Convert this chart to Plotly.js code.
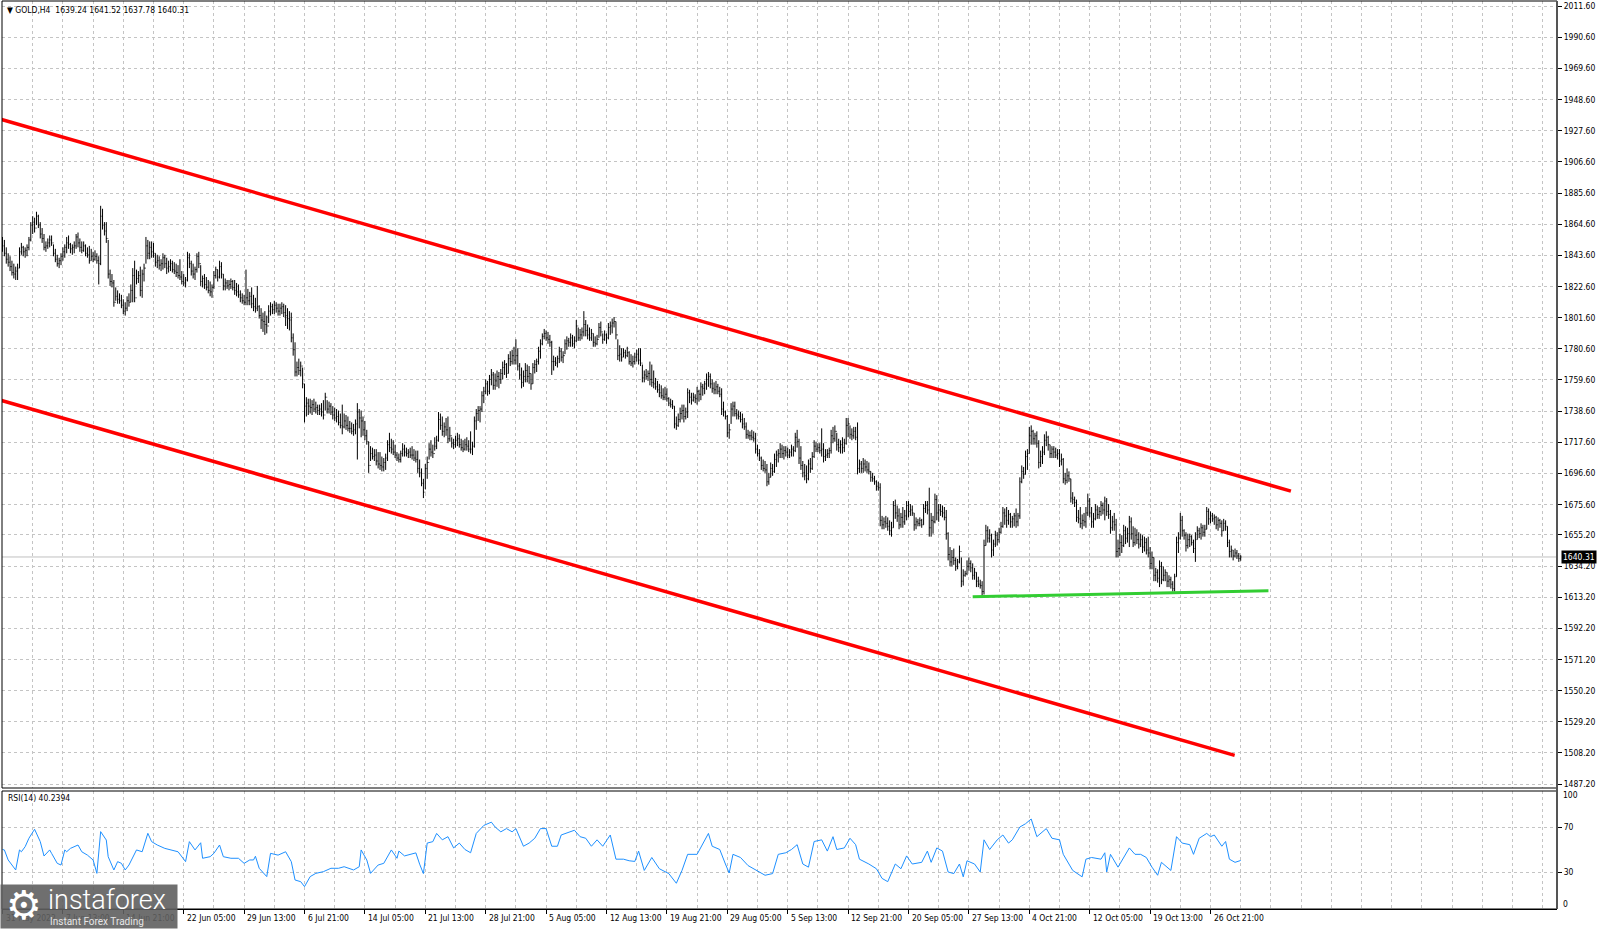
<!DOCTYPE html>
<html><head><meta charset="utf-8">
<script src="https://cdn.plot.ly/plotly-3.0.1.min.js"></script>
<style>html,body{margin:0;padding:0;background:#fff;overflow:hidden}#chart{width:1600px;height:929px}</style>
</head><body><div id="chart"></div>
<script>
// ---------------- DATA ----------------
const symbol = 'GOLD,H4';
const firstOpen = 1852;
const highs = [
1856,1854,1849,1845,1843,1840,1838,1836,1838,1849, 1852,1850,1849,1851,1856,1866,1870,1869,1873,1871,
1866,1862,1858,1853,1855,1857,1857,1851,1848,1844, 1842,1845,1849,1851,1856,1857,1852,1851,1853,1858,
1859,1855,1853,1853,1851,1849,1850,1848,1846,1847, 1845,1843,1877,1875,1866,1866,1854,1834,1831,1827,
1822,1820,1818,1817,1814,1812,1816,1818,1824,1835, 1840,1834,1833,1836,1834,1838,1856,1854,1853,1853,
1852,1845,1844,1843,1841,1845,1844,1842,1840,1841, 1840,1839,1838,1837,1841,1833,1831,1829,1846,1845,
1840,1838,1836,1845,1846,1837,1830,1831,1829,1827, 1826,1824,1833,1836,1834,1840,1839,1831,1828,1827,
1827,1828,1827,1827,1825,1824,1820,1818,1817,1834, 1821,1819,1822,1817,1815,1823,1810,1808,1805,1806,
1803,1810,1812,1811,1813,1812,1811,1811,1812,1811, 1810,1808,1806,1805,1791,1785,1772,1774,1772,1768,
1757,1748,1747,1747,1746,1747,1745,1743,1743,1744, 1746,1751,1746,1745,1744,1742,1741,1740,1739,1737,
1743,1737,1736,1735,1732,1731,1730,1733,1744,1740, 1739,1735,1732,1726,1718,1715,1714,1713,1713,1711,
1711,1708,1707,1710,1719,1724,1720,1719,1716,1711, 1710,1712,1717,1716,1714,1713,1714,1715,1713,1712,
1712,1706,1700,1693,1703,1708,1717,1719,1716,1721, 1722,1738,1737,1735,1731,1734,1735,1728,1721,1720,
1722,1724,1723,1720,1719,1720,1721,1719,1725,1718, 1735,1740,1742,1742,1752,1755,1760,1759,1763,1767,
1765,1764,1766,1765,1767,1772,1773,1771,1777,1779, 1780,1782,1787,1781,1771,1768,1766,1771,1770,1769,
1764,1771,1773,1774,1782,1787,1791,1794,1793,1792, 1790,1786,1776,1775,1776,1782,1781,1779,1787,1789,
1788,1791,1790,1789,1800,1795,1794,1795,1806,1800, 1797,1795,1794,1791,1789,1790,1798,1799,1791,1793,
1791,1798,1799,1801,1802,1799,1787,1783,1781,1781, 1780,1782,1779,1777,1776,1778,1780,1781,1781,1770,
1766,1767,1766,1772,1770,1766,1761,1759,1757,1756, 1754,1755,1754,1748,1747,1746,1742,1735,1737,1741,
1743,1743,1741,1754,1753,1751,1751,1750,1755,1753, 1758,1757,1759,1764,1765,1764,1760,1758,1759,1757,
1755,1754,1745,1739,1736,1730,1744,1745,1745,1740, 1739,1738,1737,1734,1731,1726,1725,1726,1725,1724,
1716,1713,1708,1706,1705,1703,1697,1704,1703,1710, 1712,1713,1717,1716,1715,1715,1714,1713,1716,1715,
1724,1726,1720,1715,1705,1703,1702,1706,1707,1711, 1719,1718,1717,1717,1727,1717,1713,1713,1714,1726,
1728,1729,1724,1720,1719,1721,1720,1734,1734,1729, 1727,1728,1728,1731,1706,1705,1707,1706,1705,1704,
1698,1697,1695,1692,1691,1690,1668,1667,1668,1667, 1665,1664,1678,1679,1675,1673,1670,1674,1672,1678,
1678,1676,1675,1670,1667,1666,1667,1666,1676,1678, 1678,1687,1670,1668,1683,1682,1676,1676,1675,1674,
1672,1657,1647,1645,1646,1640,1639,1648,1640,1632, 1631,1638,1640,1638,1636,1633,1630,1627,1625,1624,
1652,1662,1661,1659,1656,1652,1658,1657,1660,1664, 1674,1673,1674,1672,1670,1668,1670,1673,1670,1694,
1702,1701,1712,1713,1728,1729,1726,1724,1725,1719, 1712,1715,1723,1725,1722,1716,1715,1715,1714,1713,
1713,1710,1707,1697,1700,1698,1693,1684,1681,1679, 1672,1674,1669,1670,1674,1683,1680,1674,1670,1676,
1675,1674,1678,1677,1681,1680,1676,1672,1668,1670, 1666,1652,1656,1655,1662,1661,1660,1668,1667,1661,
1660,1659,1657,1656,1655,1654,1653,1654,1647,1644, 1640,1633,1632,1638,1637,1634,1632,1630,1628,1627,
1624,1629,1654,1657,1670,1668,1659,1657,1656,1656, 1655,1652,1657,1661,1660,1663,1662,1662,1674,1673,
1671,1670,1669,1668,1667,1666,1665,1666,1665,1661, 1652,1648,1645,1646,1645,1643,1641.52];
const lows = [
1846,1843,1838,1836,1833,1830,1828,1827,1827,1835, 1844,1843,1842,1843,1847,1853,1858,1859,1864,1862,
1855,1852,1847,1846,1848,1849,1850,1843,1839,1836, 1835,1837,1840,1842,1845,1848,1845,1844,1845,1848,
1849,1846,1845,1846,1843,1842,1838,1840,1839,1840, 1838,1824,1837,1861,1857,1852,1828,1823,1822,1809,
1813,1811,1811,1808,1804,1803,1806,1809,1812,1812, 1812,1824,1825,1816,1815,1826,1838,1841,1841,1842,
1842,1836,1835,1834,1833,1834,1835,1831,1832,1833, 1832,1831,1829,1828,1827,1824,1823,1822,1826,1835,
1830,1828,1827,1832,1835,1823,1822,1821,1820,1818, 1816,1815,1821,1828,1826,1828,1828,1820,1820,1821,
1820,1821,1820,1817,1816,1815,1812,1811,1810,1810, 1810,1810,1808,1806,1805,1806,1801,1794,1792,1790,
1791,1798,1803,1804,1804,1805,1803,1803,1804,1802, 1796,1794,1793,1785,1776,1762,1762,1763,1762,1754,
1731,1735,1736,1737,1736,1738,1737,1736,1736,1735, 1733,1739,1737,1737,1736,1733,1732,1731,1729,1727,
1723,1727,1726,1725,1724,1723,1722,1723,1706,1727, 1721,1722,1719,1716,1697,1705,1706,1705,1702,1700,
1699,1698,1698,1699,1705,1711,1710,1709,1707,1705, 1704,1704,1708,1708,1708,1707,1707,1706,1705,1704,
1697,1694,1688,1680,1686,1693,1706,1708,1707,1712, 1713,1718,1726,1722,1721,1722,1717,1718,1714,1713,
1714,1715,1714,1712,1711,1712,1712,1711,1710,1709, 1714,1726,1732,1731,1738,1744,1750,1749,1750,1756,
1753,1753,1755,1754,1757,1760,1763,1761,1764,1769, 1770,1770,1770,1766,1760,1754,1755,1758,1758,1757,
1753,1757,1764,1765,1770,1774,1783,1787,1786,1784, 1782,1763,1766,1769,1768,1771,1772,1771,1777,1780,
1782,1782,1782,1781,1785,1786,1786,1787,1789,1789, 1787,1786,1786,1782,1782,1783,1788,1789,1784,1786,
1784,1787,1790,1791,1795,1787,1773,1772,1772,1775, 1774,1775,1770,1769,1768,1770,1772,1770,1769,1758,
1758,1760,1759,1756,1755,1754,1753,1751,1748,1747, 1746,1746,1745,1742,1741,1740,1727,1726,1728,1731,
1733,1731,1733,1734,1744,1743,1745,1744,1743,1745, 1746,1749,1750,1753,1755,1754,1751,1750,1750,1750,
1748,1736,1735,1733,1721,1720,1730,1735,1735,1733, 1733,1731,1727,1726,1720,1720,1719,1719,1718,1710,
1708,1705,1699,1698,1697,1688,1689,1694,1695,1697, 1701,1704,1707,1707,1706,1708,1707,1707,1708,1708,
1711,1714,1703,1699,1694,1692,1690,1692,1697,1699, 1707,1711,1711,1710,1708,1704,1705,1707,1707,1710,
1717,1718,1712,1711,1710,1710,1711,1716,1721,1720, 1719,1720,1719,1696,1697,1697,1697,1698,1697,1696,
1691,1691,1689,1685,1685,1661,1659,1659,1660,1658, 1655,1654,1660,1666,1664,1659,1660,1660,1662,1665,
1667,1668,1668,1658,1659,1661,1661,1660,1662,1670, 1669,1654,1654,1656,1663,1665,1664,1668,1667,1665,
1652,1638,1634,1634,1635,1631,1632,1636,1620,1621, 1627,1628,1631,1630,1625,1625,1620,1620,1619,1613.5,
1615,1648,1650,1650,1640,1641,1647,1648,1650,1656, 1660,1662,1660,1662,1660,1660,1661,1660,1661,1666,
1690,1693,1696,1699,1710,1716,1716,1716,1714,1700, 1701,1703,1709,1715,1712,1707,1707,1707,1707,1706,
1701,1702,1690,1689,1690,1691,1677,1676,1674,1664, 1663,1660,1659,1661,1660,1668,1667,1660,1660,1665,
1666,1666,1668,1669,1665,1668,1666,1656,1658,1658, 1640,1640,1641,1643,1647,1649,1650,1647,1652,1647,
1648,1649,1646,1647,1643,1644,1642,1640,1632,1632, 1624,1624,1623,1620,1622,1624,1624,1620,1620,1619,
1617,1617,1627,1643,1652,1654,1652,1644,1646,1647, 1648,1643,1637,1652,1653,1652,1654,1654,1659,1662,
1663,1664,1662,1659,1658,1660,1654,1658,1658,1647, 1640,1640,1638,1640,1639,1637,1637.78];
const closes = [
1850,1845,1841,1839,1836,1832,1831,1833,1835,1846, 1849,1846,1847,1849,1854,1864,1866,1862,1870,1864,
1858,1855,1849,1850,1852,1854,1852,1845,1841,1838, 1840,1843,1846,1849,1852,1851,1848,1849,1850,1856,
1852,1849,1847,1850,1845,1844,1840,1843,1841,1843, 1840,1838,1870,1864,1860,1855,1831,1826,1825,1812,
1816,1814,1813,1810,1806,1808,1813,1812,1820,1830, 1815,1828,1830,1820,1831,1835,1850,1845,1849,1846,
1845,1839,1840,1837,1838,1842,1838,1835,1836,1838, 1834,1833,1832,1830,1829,1826,1825,1827,1842,1838,
1833,1831,1834,1843,1838,1826,1828,1824,1822,1820, 1819,1822,1830,1834,1829,1836,1831,1823,1825,1823,
1824,1826,1822,1820,1819,1817,1815,1813,1812,1815, 1813,1816,1811,1809,1808,1809,1803,1800,1799,1797,
1796,1806,1809,1807,1810,1808,1806,1808,1809,1805, 1803,1801,1800,1788,1780,1765,1768,1766,1769,1757,
1742,1744,1742,1741,1743,1740,1741,1739,1740,1738, 1736,1748,1740,1742,1738,1736,1734,1735,1731,1729,
1728,1732,1729,1727,1727,1725,1726,1730,1738,1734, 1732,1726,1722,1718,1702,1710,1708,1709,1705,1703,
1702,1701,1704,1707,1716,1714,1713,1711,1709,1707, 1706,1710,1713,1711,1710,1711,1709,1709,1707,1706,
1700,1697,1690,1684,1700,1704,1713,1711,1710,1715, 1719,1733,1729,1725,1728,1726,1720,1722,1717,1716,
1719,1720,1716,1714,1713,1716,1715,1713,1713,1715, 1732,1737,1739,1740,1749,1752,1757,1752,1760,1763,
1756,1759,1762,1760,1764,1768,1770,1764,1774,1772, 1776,1773,1776,1769,1763,1758,1762,1766,1762,1764,
1757,1768,1770,1772,1779,1784,1789,1791,1788,1787, 1785,1772,1772,1771,1774,1779,1775,1776,1784,1786,
1785,1788,1784,1786,1796,1788,1790,1792,1797,1793, 1790,1788,1791,1785,1784,1787,1795,1792,1787,1790,
1788,1795,1796,1798,1799,1790,1776,1777,1775,1778, 1776,1778,1772,1771,1772,1775,1777,1773,1771,1761,
1763,1762,1764,1760,1758,1757,1755,1753,1751,1749, 1748,1750,1747,1744,1743,1742,1730,1729,1733,1737,
1739,1735,1738,1751,1748,1746,1748,1747,1752,1750, 1755,1754,1757,1760,1762,1757,1754,1753,1755,1752,
1750,1740,1738,1735,1724,1726,1740,1742,1737,1736, 1735,1733,1730,1728,1723,1722,1722,1721,1720,1713,
1710,1707,1702,1700,1699,1691,1694,1700,1698,1706, 1709,1710,1713,1710,1712,1711,1709,1711,1713,1712,
1721,1718,1707,1702,1697,1695,1693,1703,1700,1708, 1715,1713,1714,1712,1713,1708,1709,1710,1712,1722,
1720,1725,1716,1714,1716,1714,1717,1729,1730,1723, 1722,1725,1721,1700,1703,1700,1703,1701,1699,1698,
1694,1693,1691,1688,1687,1665,1662,1664,1663,1661, 1658,1660,1675,1670,1668,1662,1667,1664,1668,1675,
1671,1672,1670,1662,1664,1663,1665,1662,1673,1675, 1672,1660,1665,1664,1679,1670,1672,1671,1670,1667,
1656,1642,1637,1640,1638,1634,1637,1644,1624,1628, 1629,1634,1636,1633,1628,1630,1624,1622,1621,1617,
1648,1658,1653,1655,1645,1649,1655,1652,1657,1661, 1670,1668,1665,1669,1664,1666,1668,1664,1668,1691,
1698,1696,1708,1710,1722,1725,1720,1722,1717,1704, 1708,1711,1719,1721,1716,1710,1713,1711,1709,1710,
1705,1706,1693,1692,1695,1693,1680,1679,1677,1667, 1666,1663,1665,1664,1670,1678,1670,1664,1666,1672,
1669,1671,1675,1672,1678,1671,1669,1660,1664,1662, 1644,1646,1650,1648,1658,1653,1656,1664,1656,1650,
1655,1652,1649,1652,1647,1650,1645,1643,1636,1640, 1628,1630,1626,1634,1625,1628,1630,1624,1625,1622,
1619,1627,1650,1653,1665,1658,1655,1648,1652,1654, 1650,1646,1652,1658,1656,1660,1657,1659,1671,1666,
1668,1666,1667,1662,1665,1663,1658,1663,1661,1650, 1644,1645,1641,1643,1641,1639.24,1640.31];

// RSI(14) read at these bar positions
const rsiBar = [0,1,3,7,9,10,12,14,17,18,20,22,25,26,29,31,33,34,36,40,42,45,48,50,52,55,56,59,61,63,65,67,69,71,74,77,79,82,86,89,93,97,99,102,105,106,110,112,115,117,121,125,128,131,133,134,136,140,142,146,150,153,155,158,160,163,166,170,174,178,181,186,189,190,193,195,199,202,206,209,
210,213,216,219,221,223,225,228,230,233,236,239,242,245,248,249,251,255,259,261,264,267,270,272,276,279,282,285,288,291,294,296,300,303,306,309,312,315,318,322,325,327,329,332,335,337,340,344,348,353,357,360,363,368,371,374,376,380,383,385,387,391,395,398,401,404,408,411,415,418,421,424,427,430,434,437,440,442,446,449,452,454,459,463,466,469,473,476,479,482,487,490,492,495,498,501,504,507,509,511,515,518,520,523,527,530,533,535,539,542,545,548,553,556,560,562,567,572,574,577,582,584,585,587,591,597,600,603,606,609,612,614,619,622,625,629,631,634,638,640,642,646,648,650,653,656];
const rsiVal = [50,49.6,40.7,31.8,49.6,48,52.5,60,68,64.4,57,44.2,49.6,46.6,37.7,36.2,49.6,48,51,54,48,45,40.7,28.8,65.9,58.4,43.6,31.8,39.2,37.7,31.8,36.2,43.6,49.6,48,64.4,57,54,51,49.6,48,39.2,57,49.6,56,42.2,43.6,46.6,54,43.6,42.2,42.2,37.7,40.7,40.7,44,33.3,25.9,46.6,45,48,39.2,22.9,21.4,17,25.9,28.8,30.3,33.3,33.3,34.7,31.8,34.7,49.6,40.7,28.8,36.2,37.7,49.6,42.2,
48.6,44.3,45.7,47,37,28.6,55.7,57,64.3,58.6,61.4,51.4,55.7,50,47.1,52.9,64.3,71.4,74.3,70,65.7,68.6,65.7,68.6,52.9,55.7,60,68.6,68.6,52.9,52.9,62.9,65.7,67.1,61.4,60,52.9,58.6,52.9,62.9,41.4,41.4,41.4,40,39.4,48.6,31.4,42.9,32.9,28.6,20,31.4,45.7,45.7,55.7,64.3,52.9,50,37.1,29.1,45.7,42.9,35.7,32.9,30,27.1,28.6,45.7,47.1,50,54.3,37.1,34.3,57.1,58.6,48.6,61.4,50,51.4,60,54.3,41.4,37.1,32.9,24.3,21.4,37.1,32.9,44.3,37.1,38.6,48.6,38.6,51.4,48.6,30,28.6,37.1,25.7,40,37.1,30,58.6,50,58.6,62.9,55.7,58.6,70,72.9,77.1,61.4,68.6,60,58.6,45.7,31.4,25.7,41.4,42.9,41.4,47.1,30,45.7,34.3,51.4,45.7,45.7,42.9,34.3,27.1,38.6,31.4,61.4,55.7,54.3,45.7,60,64.3,61.4,62.9,52.9,57.1,41.4,38.6,40.2394];

// axis labels
const priceTickText = ['2011.60','1990.60','1969.60','1948.60','1927.60','1906.60','1885.60','1864.60','1843.60','1822.60','1801.60','1780.60','1759.60','1738.60','1717.60','1696.60','1675.60','1655.20','1634.20','1613.20','1592.20','1571.20','1550.20','1529.20','1508.20','1487.20'];
const dateTickBars = [0,32,64,96,128,160,192,224,256,288,320,352,384,416,448,480,512,544,576,608,640];
const dateTickText = ['31 May 2022','7 Jun 13:00','14 Jun 21:00','22 Jun 05:00','29 Jun 13:00','6 Jul 21:00','14 Jul 05:00','21 Jul 13:00','28 Jul 21:00','5 Aug 05:00','12 Aug 13:00','19 Aug 21:00','29 Aug 05:00','5 Sep 13:00','12 Sep 21:00','20 Sep 05:00','27 Sep 13:00','4 Oct 21:00','12 Oct 05:00','19 Oct 13:00','26 Oct 21:00'];
const rsiLevels = [70, 30];
const rsiBounds = ['100', '0'];

// drawn trend lines (bar index, price)
const upperChannelBar = [-1.3, 682.6], upperChannelPrice = [1935.5, 1684.7];
const lowerChannelBar = [-1.3, 652.8], lowerChannelPrice = [1746.1, 1506.6];
const supportBar = [514.0, 670.7], supportPrice = [1613.5, 1617.5];

// ---------------- LAYOUT ----------------
const W = 1600, H = 929, ML = 2, MR = 43, MT = 1, MB = 20;
const plotW = W - ML - MR, plotH = H - MT - MB, plotBottom = H - MB;
const yP = px => (plotBottom - px) / plotH;
const xP = px => (px - ML) / plotW;
const BAR0 = 2.5, STEP = 1.8875;
const PRICE_TOP = 1, PRICE_BOT = 788, RSI_TOP = 791, RSI_BOT = 909;
const PREF = 2011.6, YREF = 6.1, PXU = 1.4837;
const FONT = "Tahoma, 'DejaVu Sans Condensed', 'DejaVu Sans', sans-serif";
const GRID = '#c4c4c4';

const idx = closes.map((_, i) => i);
const opens = closes.map((c, i) => i === 0 ? firstOpen : closes[i - 1]);
const last = closes.length - 1;

const gridBars = [];
for (let b = 0; b <= 830; b += 16) gridBars.push(b);

const traces = [
  {type: 'ohlc', x: idx, open: opens, high: highs, low: lows, close: closes,
   xaxis: 'x', yaxis: 'y', tickwidth: 0.35, hoverinfo: 'skip', showlegend: false,
   increasing: {line: {color: '#000000', width: 1}},
   decreasing: {line: {color: '#000000', width: 1}}},
  {type: 'scatter', mode: 'lines', x: rsiBar, y: rsiVal, xaxis: 'x', yaxis: 'y2',
   line: {color: '#1e90ff', width: 1}, hoverinfo: 'skip', showlegend: false}
];

const shapes = [
  {type: 'line', xref: 'paper', yref: 'y', x0: 0, x1: 1, y0: closes[last], y1: closes[last],
   line: {color: '#c0c0c0', width: 1}, layer: 'below'},
  {type: 'line', xref: 'x', yref: 'y', x0: upperChannelBar[0], x1: upperChannelBar[1],
   y0: upperChannelPrice[0], y1: upperChannelPrice[1], line: {color: '#ff0000', width: 3.5}},
  {type: 'line', xref: 'x', yref: 'y', x0: lowerChannelBar[0], x1: lowerChannelBar[1],
   y0: lowerChannelPrice[0], y1: lowerChannelPrice[1], line: {color: '#ff0000', width: 3.5}},
  {type: 'line', xref: 'x', yref: 'y', x0: supportBar[0], x1: supportBar[1],
   y0: supportPrice[0], y1: supportPrice[1], line: {color: '#32cd32', width: 3}},
  {type: 'rect', xref: 'paper', yref: 'paper', x0: 0, x1: 1, y0: yP(PRICE_BOT), y1: yP(PRICE_TOP),
   line: {color: '#000', width: 1}},
  {type: 'rect', xref: 'paper', yref: 'paper', x0: 0, x1: 1, y0: yP(RSI_BOT), y1: yP(RSI_TOP),
   line: {color: '#000', width: 1}},
  {type: 'line', xref: 'paper', yref: 'paper', x0: 1, x1: 1, y0: yP(RSI_BOT), y1: yP(PRICE_TOP),
   line: {color: '#555', width: 2}}
];

const annotations = [];
dateTickBars.forEach((b, k) => annotations.push({
  xref: 'x', yref: 'paper', x: b, y: yP(918), xanchor: 'left', yanchor: 'middle', xshift: 1,
  text: dateTickText[k], showarrow: false, font: {family: FONT, size: 8.5, color: '#000'}}));
annotations.push({xref: 'paper', yref: 'paper', x: xP(5), y: yP(10), xanchor: 'left', yanchor: 'middle',
  showarrow: false, font: {family: FONT, size: 8.5, color: '#000'},
  text: '▼ ' + symbol + '  ' + [opens[last], highs[last], lows[last], closes[last]].map(v => v.toFixed(2)).join(' ')});
annotations.push({xref: 'paper', yref: 'paper', x: xP(6), y: yP(798), xanchor: 'left', yanchor: 'middle',
  showarrow: false, font: {family: FONT, size: 8.5, color: '#000'},
  text: 'RSI(14) ' + rsiVal[rsiVal.length - 1].toFixed(4)});
annotations.push({xref: 'paper', yref: 'paper', x: xP(1561), y: yP(795), xanchor: 'left', yanchor: 'middle',
  showarrow: false, font: {family: FONT, size: 8.5, color: '#000'}, text: rsiBounds[0]});
annotations.push({xref: 'paper', yref: 'paper', x: xP(1561), y: yP(903.5), xanchor: 'left', yanchor: 'middle',
  showarrow: false, font: {family: FONT, size: 8.5, color: '#000'}, text: rsiBounds[1]});
annotations.push({xref: 'paper', yref: 'y', x: xP(1561), y: closes[last], xanchor: 'left', yanchor: 'middle',
  showarrow: false, bgcolor: '#000', borderpad: 1, font: {family: FONT, size: 8.5, color: '#fff'},
  text: closes[last].toFixed(2)});
// watermark (drawn over the first date labels, as in the picture)
annotations.push({xref: 'paper', yref: 'paper', x: xP(0), y: yP(929), xanchor: 'left', yanchor: 'bottom',
  showarrow: false, text: ' ', width: 176, height: 43, borderpad: 0, bgcolor: 'rgba(95,95,95,0.9)'});
annotations.push({xref: 'paper', yref: 'paper', x: xP(24), y: yP(905), xanchor: 'center', yanchor: 'middle',
  showarrow: false, text: '⚙', font: {family: 'DejaVu Sans', size: 40, color: '#ffffff'}});
annotations.push({xref: 'paper', yref: 'paper', x: xP(46), y: yP(900), xanchor: 'left', yanchor: 'middle',
  showarrow: false, text: 'instaforex', font: {family: 'Roboto, sans-serif', size: 27, weight: 300, color: '#ffffff'}});
annotations.push({xref: 'paper', yref: 'paper', x: xP(48), y: yP(921), xanchor: 'left', yanchor: 'middle',
  showarrow: false, text: 'Instant Forex Trading', font: {family: 'Roboto, sans-serif', size: 10, color: '#e6e6e6'}});

const layout = {
  width: W, height: H, margin: {l: ML, r: MR, t: MT, b: MB, pad: 0},
  paper_bgcolor: '#ffffff', plot_bgcolor: '#ffffff', showlegend: false,
  font: {family: FONT, size: 8.5, color: '#000'},
  xaxis: {
    anchor: 'y2', range: [(ML - BAR0) / STEP, (W - MR - BAR0) / STEP], rangeslider: {visible: false},
    tickmode: 'array', tickvals: dateTickBars, ticktext: dateTickBars.map(() => ''),
    ticks: 'outside', ticklen: 4, tickcolor: '#000', showline: true, linecolor: '#000', linewidth: 1,
    showgrid: true, gridcolor: GRID, griddash: '3px,3px', gridwidth: 1, zeroline: false,
    minor: {tickmode: 'array', tickvals: gridBars, showgrid: true, gridcolor: GRID, griddash: '3px,3px', gridwidth: 1, ticks: ''}
  },
  yaxis: {
    domain: [yP(PRICE_BOT), yP(PRICE_TOP)], side: 'right', anchor: 'x',
    range: [PREF - (PRICE_BOT - YREF) / PXU, PREF + (YREF - PRICE_TOP) / PXU],
    tickmode: 'array', tickvals: priceTickText.map(Number), ticktext: priceTickText,
    ticks: 'outside', ticklen: 4, tickcolor: '#000', showline: false,
    showgrid: true, gridcolor: GRID, griddash: '3px,3px', gridwidth: 1, zeroline: false,
    tickfont: {family: FONT, size: 8.5, color: '#000'}
  },
  yaxis2: {
    domain: [yP(RSI_BOT), yP(RSI_TOP)], side: 'right', anchor: 'x',
    range: [30 - (RSI_BOT - 872) / 1.125, 70 + (827 - RSI_TOP) / 1.125],
    tickmode: 'array', tickvals: rsiLevels, ticktext: rsiLevels.map(String),
    ticks: 'outside', ticklen: 4, tickcolor: '#000', showline: false,
    showgrid: true, gridcolor: GRID, griddash: '3px,3px', gridwidth: 1, zeroline: false,
    tickfont: {family: FONT, size: 8.5, color: '#000'}
  },
  shapes: shapes, annotations: annotations, hovermode: false
};

Plotly.newPlot('chart', traces, layout, {staticPlot: true, displayModeBar: false});
</script></body></html>
